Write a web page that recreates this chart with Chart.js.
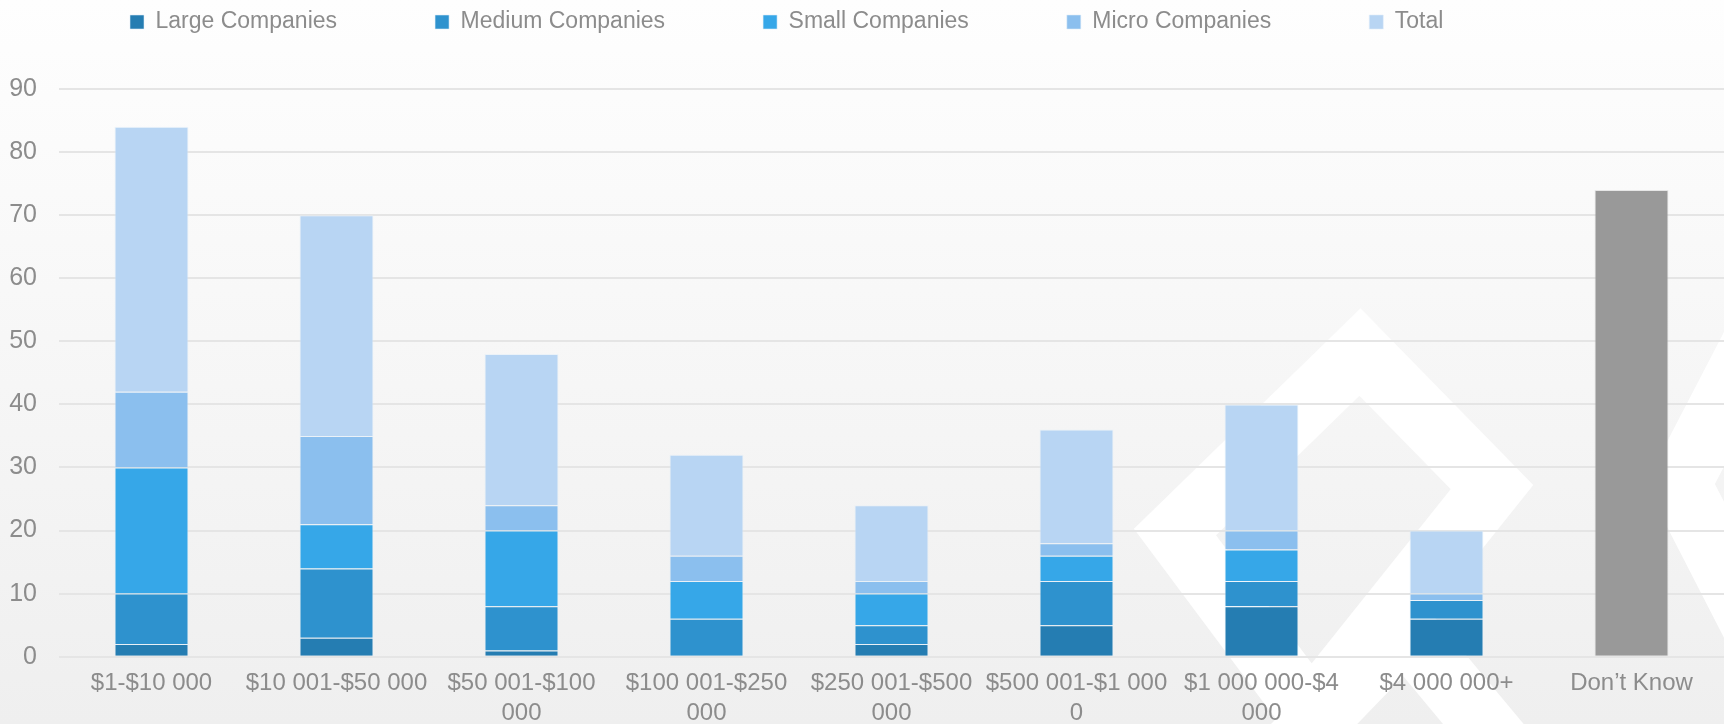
<!DOCTYPE html>
<html>
<head>
<meta charset="utf-8">
<script src="https://cdn.jsdelivr.net/npm/chart.js@4/dist/chart.umd.min.js"></script>
<style>
  html, body { margin: 0; padding: 0; background: #f5f5f5; }
  #wrap { width: 1724px; height: 724px; }
</style>
</head>
<body>
<div id="wrap"><canvas id="c" width="1724" height="724"></canvas></div>
<script>
const categories = [
  '$1-$10 000',
  '$10 001-$50 000',
  ['$50 001-$100', '000'],
  ['$100 001-$250', '000'],
  ['$250 001-$500', '000'],
  ['$500 001-$1 000', '0'],
  ['$1 000 000-$4', '000'],
  '$4 000 000+',
  'Don’t Know'
];
const seriesNames = ['Large Companies', 'Medium Companies', 'Small Companies', 'Micro Companies', 'Total'];
const large  = [2, 3, 1, 0, 2, 5, 8, 6, null];
const medium = [8, 11, 7, 6, 3, 7, 4, 3, null];
const small  = [20, 7, 12, 6, 5, 4, 5, 0, null];
const micro  = [12, 14, 4, 4, 2, 2, 3, 1, null];
const total  = [42, 35, 24, 16, 12, 18, 20, 10, null];
const dontKnow = [null, null, null, null, null, null, null, null, 74];
const yTicks = [0, 10, 20, 30, 40, 50, 60, 70, 80, 90];

const colors = ['#257db2', '#2e92ce', '#36a7e8', '#8bbfee', '#b8d5f3'];
const seriesValues = [large, medium, small, micro, total];

const FONT = "'Liberation Sans', Arial, sans-serif";
const TEXT = '#8c8c8c';

const datasets = seriesValues.map((vals, i) => ({
  label: seriesNames[i],
  data: vals,
  backgroundColor: colors[i],
  borderColor: 'rgba(225,238,250,0.55)',
  borderWidth: 1,
  stack: 's'
}));
datasets.push({
  label: 'Don’t Know',
  data: dontKnow,
  backgroundColor: '#999999',
  borderColor: 'rgba(200,200,200,0.4)',
  borderWidth: 1,
  stack: 's'
});

const bgPlugin = {
  id: 'bg',
  beforeDraw(chart) {
    const ctx = chart.ctx;
    const w = chart.width, h = chart.height;
    ctx.save();
    const g = ctx.createLinearGradient(0, 0, 0, h);
    g.addColorStop(0, '#fefefe');
    g.addColorStop(1, '#efefef');
    ctx.fillStyle = g;
    ctx.fillRect(0, 0, w, h);
    // decorative white chevrons (watermark)
    ctx.strokeStyle = '#ffffff';
    ctx.lineJoin = 'miter';
    ctx.lineWidth = 62;
    ctx.beginPath();
    ctx.moveTo(1360, 780);
    ctx.lineTo(1175, 532);
    ctx.lineTo(1360, 352);
    ctx.lineTo(1492, 487);
    ctx.lineTo(1330, 690);
    ctx.stroke();
    ctx.beginPath();
    ctx.moveTo(1760, 330);
    ctx.lineTo(1680, 484);
    ctx.lineTo(1760, 640);
    ctx.stroke();
    ctx.beginPath();
    ctx.moveTo(1260, 780);
    ctx.lineTo(1405, 630);
    ctx.lineTo(1530, 780);
    ctx.stroke();
    ctx.restore();
  }
};

const legendPos = {
  id: 'legendPos',
  beforeInit(chart) {
    const lg = chart.legend;
    if (lg) {
      const origFit = lg.fit.bind(lg);
      lg.fit = function () { origFit(); this.height = 89; };
    }
  },
  afterLayout(chart) {
    const lg = chart.legend;
    if (lg) {
      const pad = lg.options.labels.padding;
      lg.left = 130 - pad;
      lg.top = 10.5 - pad;
    }
  }
};

new Chart(document.getElementById('c'), {
  type: 'bar',
  data: { labels: categories, datasets: datasets },
  plugins: [bgPlugin, legendPos],
  options: {
    responsive: false,
    animation: false,
    devicePixelRatio: 1,
    layout: { padding: 0 },
    datasets: { bar: { barPercentage: 0.4, categoryPercentage: 1.0 } },
    plugins: {
      tooltip: { enabled: false },
      legend: {
        position: 'top',
        align: 'start',
        labels: {
          boxWidth: 14,
          boxHeight: 14,
          padding: 98,
          color: TEXT,
          font: { family: FONT, size: 23 },
          filter: (item) => item.datasetIndex < seriesNames.length
        }
      }
    },
    scales: {
      x: {
        stacked: true,
        grid: { display: false, drawTicks: false },
        border: { display: false },
        ticks: {
          autoSkip: false,
          maxRotation: 0,
          minRotation: 0,
          padding: 12,
          color: TEXT,
          font: { family: FONT, size: 24, lineHeight: 1.24 }
        },
        afterFit(scale) { scale.height = 67.3; }
      },
      y: {
        stacked: true,
        min: yTicks[0],
        max: yTicks[yTicks.length - 1],
        afterBuildTicks(scale) { scale.ticks = yTicks.map(v => ({ value: v })); },
        grid: { color: '#e5e5e5', lineWidth: 2, drawTicks: false },
        border: { display: false },
        ticks: {
          padding: 22,
          color: TEXT,
          font: { family: FONT, size: 25 }
        },
        afterFit(scale) { scale.width = 59; }
      }
    }
  }
});
</script>
</body>
</html>
